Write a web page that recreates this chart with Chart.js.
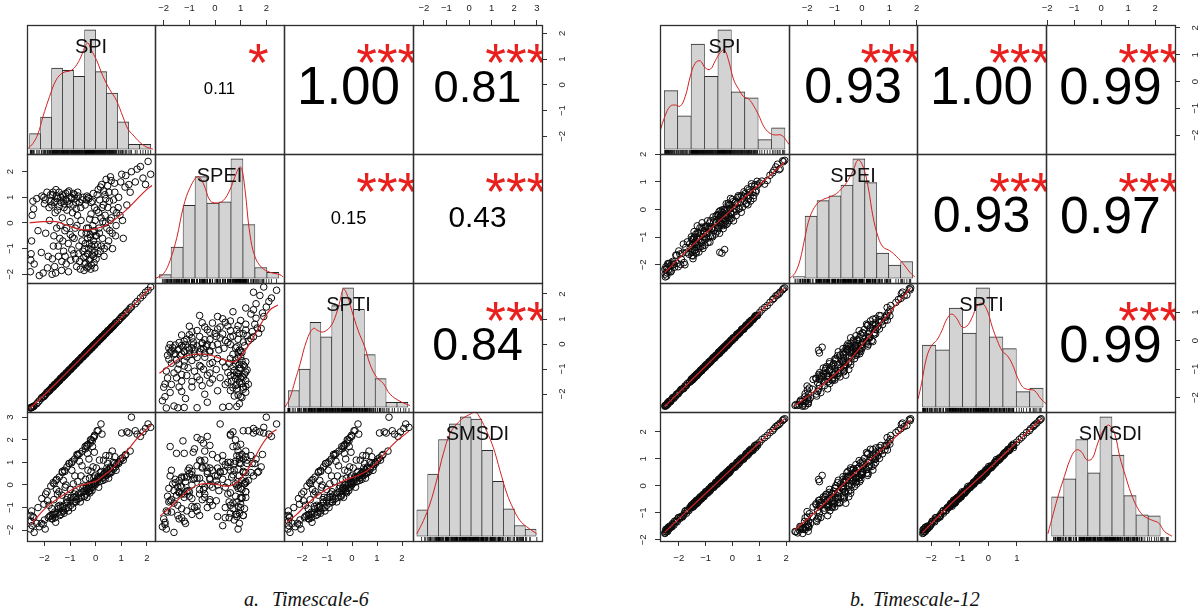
<!DOCTYPE html>
<html><head><meta charset="utf-8"><title>Correlation matrices</title>
<script src="https://cdn.jsdelivr.net/npm/chart.js@4.4.1/dist/chart.umd.min.js"></script>
<style>
html,body{margin:0;padding:0;background:#fff}
body{position:relative;width:1200px;height:608px;overflow:hidden}
canvas{position:absolute}
.cap{position:absolute;top:589px;font-family:"Liberation Serif","Times New Roman",serif;font-style:italic;font-size:20px;line-height:20px;color:#111;white-space:nowrap}
</style></head><body>
<div class="cap" style="left:244px">a.</div><div class="cap" style="left:272px">Timescale-6</div>
<div class="cap" style="left:850px">b.</div><div class="cap" style="left:873px">Timescale-12</div>
<script>
const VARS = ['SPI','SPEI','SPTI','SMSDI'];

/* ===== a. Timescale-6 : observations ===== */
const spiA = [-2.55,-2.52,-2.50,-2.48,-2.45,-2.40,-2.30,-2.20,-2.10,-2.05,
-2.00,-1.95,-1.90,-1.85,-1.80,-1.75,-1.70,-1.68,-1.65,-1.62,
-1.60,-1.58,-1.55,-1.52,-1.50,-1.45,-1.42,-1.40,-1.36,-1.33,
-1.30,-1.27,-1.25,-1.22,-1.20,-1.17,-1.15,-1.12,-1.10,-1.07,
-1.04,-1.00,-0.97,-0.94,-0.91,-0.88,-0.85,-0.82,-0.80,-0.77,
-0.74,-0.71,-0.68,-0.65,-0.62,-0.58,-0.55,-0.52,-0.49,-0.45,
-0.42,-0.40,-0.38,-0.36,-0.35,-0.33,-0.31,-0.29,-0.27,-0.25,
-0.23,-0.21,-0.19,-0.17,-0.15,-0.13,-0.11,-0.09,-0.08,-0.06,
-0.05,-0.04,-0.03,-0.01,0.02,0.05,0.08,0.10,0.13,0.16,
0.18,0.21,0.24,0.27,0.30,0.33,0.36,0.39,0.41,0.45,
0.48,0.52,0.55,0.58,0.62,0.66,0.70,0.74,0.78,0.82,
0.90,0.95,1.02,1.08,1.15,1.22,1.35,1.40,1.55,1.75,
1.95,2.05,2.15,
-2.53,-2.42,-2.25,
-2.12,-2.02,-1.97,-1.88,-1.82,-1.76,
-1.71,-1.69,-1.66,-1.63,-1.59,-1.56,-1.53,-1.49,-1.46,-1.43,-1.39,-1.35,-1.32,-1.30,
-1.28,-1.26,-1.23,-1.19,-1.16,-1.13,-1.09,-1.06,-1.03,-0.99,-0.96,-0.93,-0.90,-0.87,
-0.84,-0.81,-0.78,-0.76,-0.73,-0.70,-0.67,-0.63,-0.60,-0.57,-0.53,-0.50,-0.46,
-0.43,-0.41,-0.39,-0.37,-0.34,-0.32,-0.30,-0.28,-0.26,-0.24,-0.22,-0.20,-0.18,-0.16,-0.14,-0.12,-0.10,-0.07,-0.05,-0.03,-0.02,
0.03,0.06,0.09,0.12,0.15,0.19,0.22,0.25,0.28,0.31,0.34,0.37,0.40,
0.44,0.47,0.51,0.54,0.57,0.61,0.65,0.69,0.75,0.80,
0.88,0.98,1.05,1.18,
1.30,1.62,1.85];
const speiA = [-1.90,-1.20,-0.70,0.30,0.85,-1.60,0.95,-2.05,1.05,-1.95,
0.75,-0.40,1.20,-1.30,0.10,0.85,-2.00,1.10,-0.90,0.80,
-1.70,0.40,1.30,-0.20,0.95,-1.30,0.65,-0.60,1.00,-1.85,
0.20,0.90,-1.10,0.75,-0.30,1.15,-1.60,0.50,0.85,-0.80,
1.25,0.05,-1.45,0.95,-0.55,0.70,-1.20,1.10,-0.20,0.80,
-1.70,0.30,1.05,-0.90,-1.50,0.60,-0.40,0.90,-1.10,-1.85,
-1.60,-0.80,-1.30,0.90,-0.20,-1.75,-0.60,1.00,-1.00,-1.45,
0.15,-0.45,-1.80,0.80,-0.90,-1.25,-0.10,1.15,-0.70,-1.55,
-0.30,0.60,-1.15,-0.50,-1.40,0.50,-0.85,1.30,-0.20,0.90,
-1.10,0.20,1.50,-0.60,0.70,-1.30,1.10,0.00,1.70,-0.90,
0.60,1.20,-0.30,1.80,0.20,-1.00,0.90,1.55,-0.50,0.40,
1.00,0.30,1.90,-0.60,1.40,0.70,1.20,2.00,1.60,2.20,
1.50,2.40,1.90,
-1.45,0.55,-0.30,
-1.15,1.00,0.90,-1.75,0.60,1.10,
0.70,-1.40,1.20,-0.50,0.85,-1.95,1.05,0.50,-0.90,1.20,-0.10,0.80,-1.50,1.10,
-0.70,1.05,0.60,-1.30,0.90,-0.20,1.20,-1.90,0.75,-0.45,1.00,-1.05,0.40,1.15,
-0.60,0.95,-1.40,0.55,-0.10,1.20,-1.20,0.80,-1.80,0.10,-0.70,1.00,-1.35,
-1.00,0.70,-1.55,-0.40,1.05,-1.20,-1.70,-0.20,0.95,-0.80,-1.40,-0.55,0.35,-1.65,-1.05,0.85,-0.35,-1.30,-0.85,-1.75,0.10,
-0.50,1.10,-1.20,0.40,-0.40,1.40,-0.90,0.60,0.05,1.25,-1.00,0.30,0.95,
-0.20,1.45,-0.70,0.85,0.10,1.65,-0.40,0.50,1.20,-0.10,
0.60,1.60,0.10,1.85,
1.50,2.10,1.75];
const sptiA = [-2.56,-2.54,-2.55,-2.53,-2.50,-2.48,-2.39,-2.27,-2.14,-2.11,
-2.08,-2.01,-1.93,-1.90,-1.87,-1.80,-1.73,-1.73,-1.72,-1.66,
-1.62,-1.62,-1.61,-1.56,-1.52,-1.49,-1.48,-1.44,-1.37,-1.36,
-1.35,-1.30,-1.26,-1.25,-1.25,-1.20,-1.16,-1.14,-1.14,-1.09,
-1.04,-1.02,-1.01,-0.96,-0.91,-0.90,-0.88,-0.83,-0.79,-0.78,
-0.77,-0.72,-0.67,-0.66,-0.64,-0.58,-0.53,-0.52,-0.51,-0.45,
-0.40,-0.40,-0.40,-0.35,-0.32,-0.32,-0.32,-0.28,-0.24,-0.24,
-0.24,-0.20,-0.16,-0.16,-0.16,-0.12,-0.07,-0.07,-0.08,-0.04,
-0.01,-0.02,-0.03,0.01,0.06,0.07,0.08,0.12,0.18,0.19,
0.19,0.24,0.29,0.30,0.31,0.36,0.41,0.43,0.43,0.49,
0.54,0.56,0.57,0.62,0.68,0.71,0.73,0.79,0.85,0.87,
0.94,1.01,1.10,1.14,1.20,1.29,1.44,1.48,1.61,1.84,
2.07,2.15,2.28,
-2.55,-2.50,-2.33,
-2.18,-2.10,-2.04,-1.94,-1.86,-1.81,
-1.75,-1.72,-1.70,-1.67,-1.63,-1.60,-1.58,-1.53,-1.50,-1.47,-1.41,-1.38,-1.35,-1.33,
-1.31,-1.29,-1.26,-1.22,-1.19,-1.16,-1.12,-1.08,-1.06,-1.01,-0.98,-0.95,-0.92,-0.89,
-0.86,-0.82,-0.80,-0.77,-0.74,-0.71,-0.68,-0.64,-0.61,-0.58,-0.54,-0.51,-0.47,
-0.43,-0.41,-0.39,-0.37,-0.34,-0.31,-0.29,-0.27,-0.25,-0.23,-0.21,-0.19,-0.17,-0.15,-0.13,-0.11,-0.09,-0.06,-0.04,-0.02,-0.01,
0.05,0.08,0.11,0.14,0.17,0.21,0.24,0.27,0.30,0.33,0.37,0.40,0.43,
0.47,0.50,0.54,0.57,0.60,0.64,0.68,0.72,0.79,0.84,
0.92,1.03,1.10,1.24,
1.37,1.70,1.94];
const smsdiA = [-1.95,-1.60,-1.15,-1.80,-1.40,-2.10,-1.70,-1.85,-0.60,-1.75,
-1.55,-0.40,-0.30,-1.45,-1.40,-0.05,-1.50,-1.35,-1.30,0.05,
-1.20,-1.45,0.20,0.25,-1.25,-1.05,0.35,-1.35,-1.00,-1.20,
0.55,-0.95,-1.15,0.65,0.60,-1.05,-0.80,0.80,-0.75,-1.00,
0.95,-0.70,-0.90,0.98,1.05,-0.80,-0.55,1.15,-0.75,-0.50,
-0.65,1.30,1.35,-0.60,1.40,-0.35,-0.55,1.50,-0.30,-0.50,
-0.25,1.60,-0.40,-0.15,1.75,1.70,-0.20,1.80,-0.30,-0.10,
-0.25,1.85,-0.15,2.00,0.00,1.95,-0.10,0.05,2.10,0.10,
2.15,2.20,0.15,0.05,0.20,0.10,0.25,2.40,0.30,0.15,
0.35,2.70,0.40,0.30,0.45,0.35,0.55,0.40,0.60,0.45,
0.65,0.55,0.50,0.80,0.60,0.75,0.70,0.95,0.80,0.90,
0.95,1.05,2.30,1.10,1.30,2.35,1.50,3.00,2.40,2.15,
2.50,2.70,2.55,
-1.35,-1.45,-1.00,
-1.70,-0.85,-1.95,-0.70,-0.90,-1.35,
-1.05,-1.50,0.10,-0.65,-1.30,-1.65,-0.20,-0.40,-0.95,-0.30,-0.90,-1.30,-0.45,0.60,
-0.95,0.20,-1.25,-0.10,0.00,-0.65,-0.55,-1.15,0.95,-0.20,-0.55,0.65,-1.00,0.05,
-0.40,0.40,-0.30,-0.75,1.35,0.15,-0.40,1.05,-0.75,0.40,0.85,-0.15,-0.05,
-0.50,1.70,0.25,-0.10,-0.55,1.40,0.65,0.00,1.15,0.30,-0.35,2.00,0.60,0.05,-0.25,1.70,0.80,0.30,1.45,0.40,0.00,
0.75,2.40,0.35,-0.10,1.10,0.55,0.60,2.25,0.20,1.10,0.50,0.25,1.30,
0.75,0.95,0.30,1.30,0.75,0.55,1.50,1.00,1.25,0.65,
1.00,1.15,1.20,1.35,
2.30,2.25,2.35];
const limsA = [[-2.68,2.32],[-2.34,2.69],[-2.72,2.44],[-2.48,3.23]];
const ticksA = [[-2,-1,0,1,2],[-2,-1,0,1,2],[-2,-1,0,1,2],[-2,-1,0,1,2,3]];
/* histograms (bin edges, bar heights relative to tallest bar) */
const histEdgesA_SPI = [-2.58,-2.15,-1.72,-1.29,-0.86,-0.43,0,0.43,0.86,1.29,1.72,2.15];
const histA_SPI = [13,27,68,66,61,100,65,47,23,4,4];
const histEdgesA_SPEI = [-2.18,-1.713,-1.246,-0.779,-0.312,0.155,0.622,1.089,1.556,2.023,2.49];
const histA_SPEI = [3,26,61,85,63,64,100,45,9,5];
const histEdgesA_SPTI = [-2.55,-2.115,-1.68,-1.245,-0.81,-0.375,0.06,0.495,0.93,1.365,1.8,2.235];
const histA_SPTI = [14,32,71,59,85,100,82,44,24,4,4];
const histEdgesA_SMSDI = [-2.31,-1.83,-1.35,-0.87,-0.39,0.09,0.57,1.05,1.53,2.01,2.49,2.97];
const histA_SMSDI = [22,52,81,94,100,98,72,46,23,9,6];
/* density curves */
const densA_SPI = [[-2.64,0.6],[-2.45,4.8],[-2.25,13],[-2.06,27],[-1.80,44],[-1.54,58],[-1.28,64],[-0.95,66],[-0.73,71],[-0.56,78],[-0.39,87],[-0.30,89],[-0.17,83],[0.03,75],[0.29,61],[0.55,50],[0.81,41],[1.07,27],[1.26,17],[1.46,12],[1.72,6],[1.98,2],[2.24,0]];
const densA_SPEI = [[-2.30,0],[-2.01,3.7],[-1.75,15],[-1.49,34],[-1.23,60],[-0.97,76],[-0.67,85],[-0.45,79],[-0.19,65],[0.07,63],[0.32,65],[0.58,74],[0.78,85],[0.95,93],[1.04,92],[1.17,74],[1.36,37],[1.56,18],[1.82,9],[2.14,5],[2.53,3],[2.66,1]];
const densA_SPTI = [[-2.68,0],[-2.48,8],[-2.28,22],[-2.08,36],[-1.81,56],[-1.55,66],[-1.35,64],[-1.15,63],[-0.88,67],[-0.68,75],[-0.48,89],[-0.35,99],[-0.21,95],[-0.01,81],[0.25,64],[0.52,50],[0.72,36],[0.99,25],[1.25,20],[1.52,11],[1.92,5],[2.32,1.4]];
const densA_SMSDI = [[-2.31,2],[-2.02,13],[-1.73,27],[-1.43,47],[-1.14,69],[-0.84,86],[-0.54,94],[-0.25,99],[0.04,102],[0.27,104],[0.49,99],[0.78,88],[1.08,74],[1.37,55],[1.67,36],[1.96,23],[2.26,13],[2.55,8],[3.0,2]];
/* smoothers in the scatter panels (row var vs column var) */
const loessA_21 = [[-2.58,0.01],[-2.06,0.05],[-1.54,0.05],[-1.15,-0.08],[-0.76,-0.21],[-0.36,-0.27],[0.03,-0.21],[0.42,-0.08],[0.81,0.18],[1.20,0.51],[1.59,0.90],[1.98,1.29],[2.20,1.46]];
const loessA_31 = [[-2.56,-2.58],[-1.5,-1.53],[0,0.02],[1.0,1.05],[2.18,2.28]];
const loessA_41 = [[-2.51,-1.74],[-2.19,-1.30],[-1.80,-0.86],[-1.41,-0.56],[-1.02,-0.27],[-0.63,-0.04],[-0.30,0.06],[0.03,0.18],[0.29,0.40],[0.55,0.62],[0.81,0.91],[1.07,1.28],[1.33,1.65],[1.59,2.02],[1.98,2.46],[2.17,2.68]];
const loessA_32 = [[-2.17,-1.17],[-1.75,-0.84],[-1.37,-0.57],[-0.98,-0.44],[-0.59,-0.40],[-0.20,-0.44],[0.19,-0.57],[0.58,-0.71],[0.84,-0.67],[1.10,-0.37],[1.36,0.03],[1.62,0.49],[1.88,0.96],[2.14,1.36],[2.45,1.56]];
const loessA_42 = [[-2.14,-1.37],[-1.75,-1.00],[-1.36,-0.56],[-0.98,-0.19],[-0.59,0.03],[-0.20,0.06],[0.06,0.03],[0.32,-0.04],[0.58,-0.04],[0.84,0.10],[1.10,0.40],[1.36,0.84],[1.62,1.36],[1.88,1.87],[2.14,2.24],[2.40,2.46]];
const loessA_43 = [[-2.61,-1.66],[-2.21,-1.30],[-1.81,-0.86],[-1.41,-0.49],[-1.01,-0.19],[-0.61,0.03],[-0.21,0.25],[0.19,0.40],[0.59,0.62],[0.99,0.99],[1.39,1.50],[1.79,1.95],[2.12,2.24],[2.28,2.39]];
/* correlations: pairs (SPI,SPEI),(SPI,SPTI),(SPI,SMSDI),(SPEI,SPTI),(SPEI,SMSDI),(SPTI,SMSDI) */
const corrA = [0.11,1.00,0.81,0.15,0.43,0.84];
const starsA = ['*','***','***','***','***','***'];

/* ===== b. Timescale-12 : observations ===== */
const spiB = [-2.52,-2.50,-2.47,-2.44,-2.41,-2.38,-2.34,-2.30,-2.26,-2.21,-2.16,-2.11,-2.06,
-2.00,-1.93,-1.86,-1.80,-1.74,-1.68,-1.62,-1.57,
-1.53,-1.51,-1.49,-1.47,-1.45,-1.43,-1.41,-1.39,-1.37,-1.35,-1.33,-1.31,-1.29,-1.27,-1.25,-1.23,-1.21,-1.19,-1.17,-1.15,-1.13,-1.11,-1.08,-1.05,
-1.02,-0.99,-0.96,-0.93,-0.90,-0.87,-0.84,-0.81,-0.78,-0.75,-0.72,-0.69,-0.66,-0.63,-0.60,-0.57,-0.55,
-0.53,-0.51,-0.49,-0.47,-0.45,-0.43,-0.41,-0.39,-0.37,-0.35,-0.33,-0.31,-0.29,-0.27,-0.25,-0.23,-0.21,-0.19,-0.17,-0.15,-0.13,-0.11,-0.09,-0.08,-0.07,-0.06,-0.05,
-0.02,0.02,0.06,0.10,0.14,0.18,0.22,0.26,0.30,0.34,0.38,0.42,0.45,
0.48,0.52,0.56,0.60,0.64,0.68,0.72,0.76,0.80,0.84,0.89,0.94,
1.02,1.20,1.40,1.55,1.68,1.78,1.87,1.95,
-2.51,-2.48,-2.45,-2.43,-2.39,-2.36,-2.32,-2.28,-2.23,-2.18,-2.08,
-2.02,-1.96,-1.90,-1.83,-1.77,-1.71,-1.59,
-1.54,-1.52,-1.50,-1.48,-1.46,-1.44,-1.42,-1.40,-1.38,-1.36,-1.34,-1.32,-1.30,-1.26,-1.22,-1.18,-1.14,-1.10,-1.07,-1.06,
-1.03,-1.00,-0.97,-0.94,-0.91,-0.88,-0.85,-0.82,-0.79,-0.74,-0.70,-0.65,-0.61,-0.56,
-0.54,-0.52,-0.50,-0.48,-0.46,-0.44,-0.42,-0.40,-0.38,-0.36,-0.34,-0.32,-0.30,-0.28,-0.26,-0.24,-0.22,-0.20,-0.16,-0.12,-0.10,-0.04,
0.00,0.04,0.08,0.12,0.16,0.20,0.24,0.28,0.33,0.38,0.43,
0.50,0.54,0.58,0.62,0.66,0.71,0.78,0.83,0.87,0.92,
1.10,1.30,1.50,1.62,1.74,1.90];
const speiB = [-2.16,-2.44,-2.16,-2.29,-1.96,-2.18,-1.95,-2.26,-1.93,-1.98,-2.09,-1.65,-1.95,
-1.50,-1.99,-1.58,-1.92,-1.37,-1.17,-1.62,-1.37,
-0.99,-1.67,-1.25,-1.78,-1.07,-0.80,-1.48,-1.26,-0.90,-1.58,-1.06,-0.59,-1.28,-0.86,-1.54,-1.07,-0.66,-1.34,-0.87,-1.20,-0.48,-1.32,-0.89,-0.66,
-1.29,-0.61,-0.88,-0.41,-1.03,-0.66,-1.18,-0.40,-0.68,-0.95,-0.27,-0.75,-0.37,-0.89,-0.47,-0.19,-0.67,
-0.21,-0.69,-0.32,-1.55,-0.04,-0.52,-0.20,-1.58,-0.32,0.00,-0.58,-0.21,-1.45,-0.03,-0.41,0.21,-0.23,-0.51,0.01,0.23,-0.25,0.16,-0.32,0.04,0.40,-0.14,0.17,
-0.31,0.28,-0.09,0.25,-0.22,0.22,0.50,0.04,0.27,0.51,0.09,0.48,0.31,
0.58,0.22,0.75,0.39,0.62,0.31,0.84,0.63,0.51,0.90,0.69,0.89,
0.96,0.92,1.24,1.42,1.64,1.48,1.76,1.78,
-2.34,-2.07,-2.41,-2.12,-1.96,-2.24,-2.05,-2.23,-1.88,-1.99,-1.66,
-2.07,-1.61,-1.81,-1.25,-2.00,-1.55,-1.24,
-1.55,-1.08,-1.51,-1.09,-1.68,-1.21,-0.99,-1.47,-1.20,-1.54,-1.02,-1.25,-0.83,-1.40,-0.96,-1.18,-0.64,-1.41,-0.98,-0.77,
-1.10,-0.62,-1.04,-0.62,-1.19,-0.71,-0.49,-0.96,-0.69,-0.99,-0.46,-0.66,-0.23,-0.78,
-0.37,-0.60,-0.08,-0.86,-0.45,-0.23,-0.56,-0.09,-0.52,-0.11,-0.69,-0.22,0.00,-0.49,-0.22,-0.55,-0.03,-0.27,0.17,-0.40,0.02,-0.18,
0.36,-0.41,0.03,0.27,-0.05,0.44,0.02,0.46,-0.10,0.39,0.64,
0.20,0.49,0.17,0.71,0.49,0.93,0.40,0.84,0.63,1.02,
1.03,1.05,1.33,1.54,1.44,1.73];
const sptiB = [-2.30,-2.27,-2.26,-2.25,-2.20,-2.14,-2.14,-2.13,-2.06,-2.00,-1.97,-1.94,-1.88,
-1.82,-1.73,-1.69,-1.66,-1.58,-1.50,-1.47,-1.44,
-1.38,-1.33,-1.35,-1.36,-1.31,-1.27,-1.27,-1.27,-1.23,-1.19,-1.20,-1.21,-1.16,-1.12,-1.12,-1.12,-1.09,-1.04,-1.05,-1.06,-1.01,-0.97,-0.96,-0.96,
-0.91,-0.85,-0.85,-0.85,-0.80,-0.75,-0.74,-0.73,-0.69,-0.63,-0.63,-0.63,-0.57,-0.53,-0.52,-0.51,-0.47,
-0.45,-0.40,-0.42,-0.43,-0.38,-0.34,-0.34,-0.34,-0.30,-0.26,-0.27,-0.28,-0.23,-0.19,-0.19,-0.19,-0.16,-0.11,-0.12,-0.13,-0.08,-0.04,-0.04,-0.05,-0.03,0.01,-0.01,
0.02,0.09,0.10,0.10,0.17,0.23,0.24,0.26,0.32,0.39,0.39,0.40,0.46,
0.49,0.55,0.56,0.57,0.64,0.69,0.71,0.73,0.78,0.85,0.87,0.89,
0.99,1.16,1.34,1.48,1.60,1.70,1.78,1.85,
-2.27,-2.29,-2.24,-2.19,-2.21,-2.13,-2.14,-2.08,-2.00,-2.02,-1.87,
-1.86,-1.78,-1.70,-1.69,-1.59,-1.57,-1.44,
-1.36,-1.40,-1.34,-1.36,-1.32,-1.27,-1.31,-1.24,-1.26,-1.23,-1.18,-1.22,-1.15,-1.15,-1.09,-1.03,-1.05,-0.96,-0.97,-0.95,
-0.89,-0.92,-0.84,-0.85,-0.81,-0.75,-0.78,-0.70,-0.72,-0.65,-0.58,-0.60,-0.51,-0.50,
-0.46,-0.41,-0.46,-0.39,-0.41,-0.37,-0.32,-0.36,-0.29,-0.32,-0.28,-0.23,-0.27,-0.20,-0.22,-0.18,-0.14,-0.18,-0.09,-0.09,-0.05,0.03,
0.01,0.10,0.09,0.15,0.22,0.20,0.28,0.28,0.35,0.42,0.41,
0.53,0.52,0.58,0.65,0.62,0.72,0.75,0.81,0.88,0.87,
1.08,1.23,1.44,1.57,1.64,1.82];
const smsdiB = [-1.76,-1.69,-1.60,-1.63,-1.68,-1.58,-1.49,-1.50,-1.52,-1.42,-1.31,-1.32,-1.33,
-1.17,-1.15,-1.15,-1.03,-0.91,-0.92,-0.91,-0.82,
-0.78,-0.70,-0.74,-0.78,-0.70,-0.63,-0.67,-0.70,-0.63,-0.54,-0.59,-0.64,-0.55,-0.49,-0.52,-0.55,-0.48,-0.40,-0.44,-0.48,-0.40,-0.33,-0.36,-0.37,
-0.30,-0.21,-0.24,-0.27,-0.19,-0.11,-0.13,-0.15,-0.07,0.01,-0.02,-0.05,0.04,0.12,0.10,0.07,0.14,
0.16,0.24,0.20,0.16,0.24,0.31,0.27,0.24,0.31,0.40,0.35,0.30,0.39,0.45,0.42,0.39,0.46,0.54,0.50,0.46,0.54,0.61,0.58,0.54,0.59,0.65,0.61,
0.64,0.74,0.72,0.69,0.79,0.88,0.87,0.85,0.94,1.04,1.02,0.99,1.08,
1.11,1.20,1.19,1.17,1.26,1.36,1.34,1.31,1.41,1.49,1.50,1.50,
1.62,1.79,1.98,2.12,2.24,2.33,2.42,2.49,
-1.74,-1.62,-1.70,-1.59,-1.53,-1.59,-1.52,-1.52,-1.39,-1.45,-1.27,
-1.18,-1.21,-1.13,-1.10,-0.95,-1.01,-0.80,
-0.73,-0.80,-0.75,-0.77,-0.66,-0.75,-0.64,-0.60,-0.67,-0.62,-0.64,-0.53,-0.62,-0.49,-0.43,-0.48,-0.41,-0.41,-0.30,-0.40,
-0.28,-0.22,-0.28,-0.22,-0.24,-0.12,-0.20,-0.08,-0.02,-0.07,0.00,0.01,0.14,0.07,
0.18,0.23,0.16,0.21,0.19,0.30,0.21,0.31,0.36,0.29,0.34,0.32,0.43,0.34,0.45,0.49,0.42,0.47,0.47,0.60,0.51,0.65,
0.72,0.67,0.74,0.73,0.86,0.79,0.92,0.98,0.94,1.02,1.02,
1.18,1.11,1.24,1.30,1.25,1.33,1.35,1.49,1.42,1.55,
1.72,1.87,2.05,2.20,2.28,2.46];
const limsB = [[-2.70,2.11],[-2.66,2.01],[-2.50,2.02],[-2.04,2.74]];
const ticksB = [[-2,-1,0,1,2],[-2,-1,0,1,2],[-2,-1,0,1],[-2,-1,0,1,2]];
const histEdgesB_SPI = [-2.54,-2.04,-1.54,-1.04,-0.54,-0.04,0.46,0.96,1.46,1.96];
const histB_SPI = [49,28,88,61,100,48,43,8,18];
const histEdgesB_SPEI = [-2.51,-2.074,-1.638,-1.202,-0.766,-0.33,0.106,0.542,0.978,1.414,1.85];
const histB_SPEI = [1.4,52,65,69,78,100,80,21,11,14];
const histEdgesB_SPTI = [-2.31,-1.84,-1.37,-0.90,-0.43,0.04,0.51,0.98,1.45,1.92];
const histB_SPTI = [52,48,83,62,100,59,49,13,16];
const histEdgesB_SMSDI = [-1.83,-1.383,-0.936,-0.489,-0.042,0.405,0.852,1.299,1.746,2.193];
const histB_SMSDI = [33,48,81,53,100,68,34,18,17];
const densB_SPI = [[-2.70,15],[-2.51,28],[-2.32,36],[-2.13,37],[-1.95,36],[-1.76,44],[-1.57,61],[-1.39,72],[-1.20,74],[-1.01,68],[-0.82,67],[-0.64,74],[-0.45,81],[-0.30,83],[-0.14,74],[0.05,58],[0.24,50],[0.42,44],[0.61,42],[0.80,36],[0.99,28],[1.17,19],[1.36,14],[1.55,12],[1.80,12],[1.92,10],[2.11,4]];
const densB_SPEI = [[-2.63,0],[-2.45,4],[-2.26,15],[-2.08,34],[-1.90,51],[-1.65,62],[-1.41,66],[-1.17,68],[-0.92,71],[-0.74,75],[-0.56,80],[-0.32,90],[-0.14,99],[0.05,93],[0.23,76],[0.41,51],[0.60,34],[0.78,26],[1.02,23],[1.27,18],[1.51,12],[1.75,5],[1.93,1]];
const densB_SPTI = [[-2.46,7],[-2.34,20],[-2.16,42],[-1.98,52],[-1.81,56],[-1.63,64],[-1.45,74],[-1.28,78],[-1.10,74],[-0.92,67],[-0.75,68],[-0.57,75],[-0.39,85],[-0.22,87],[-0.04,81],[0.14,67],[0.31,56],[0.49,47],[0.67,43],[0.84,36],[1.02,25],[1.20,17],[1.37,15],[1.61,14],[1.84,7],[2.02,3]];
const densB_SMSDI = [[-1.97,2],[-1.77,19],[-1.56,36],[-1.36,50],[-1.15,64],[-0.94,72],[-0.74,71],[-0.53,64],[-0.33,65],[-0.12,78],[0.09,89],[0.29,93],[0.50,86],[0.70,66],[0.91,50],[1.11,36],[1.32,25],[1.53,18],[1.73,15],[1.94,13],[2.14,11],[2.35,4],[2.63,0]];
const loessB_21 = [[-2.52,-2.28],[-1.5,-1.30],[-0.5,-0.42],[0.5,0.48],[1.2,1.06],[1.95,1.72]];
const loessB_31 = [[-2.52,-2.30],[-1.5,-1.36],[-0.5,-0.43],[0.5,0.51],[1.2,1.16],[1.95,1.85]];
const loessB_41 = [[-2.52,-1.71],[-1.5,-0.75],[-0.5,0.19],[0.5,1.13],[1.2,1.79],[1.95,2.49]];
const loessB_32 = [[-2.44,-2.27],[-1.53,-1.62],[-0.56,-0.80],[0.17,0.04],[0.9,0.86],[1.78,1.85]];
const loessB_42 = [[-2.44,-1.62],[-1.5,-0.78],[-0.5,0.24],[0.5,1.15],[1.2,1.79],[1.78,2.45]];
const loessB_43 = [[-2.30,-1.72],[-1.3,-0.65],[-0.3,0.32],[0.5,1.12],[1.2,1.82],[1.85,2.49]];
const corrB = [0.93,1.00,0.99,0.93,0.97,0.99];
const starsB = ['***','***','***','***','***','***'];

/* ===== drawing ===== */
const M = 30, HIST_Y = [-4, 104], RUG_Y = -2.3;
const YS = [25,154,283,412,541];
const FONT = '"Liberation Sans", Arial, Helvetica, sans-serif';
const RED = 'rgb(210,34,34)';
const STAR_RED = '#e8201e';
const BASE_CEX = 53;
Chart.defaults.font.family = FONT;
Chart.defaults.color = '#222';

const MATS = [
  {xs:[27,155,284,413,542], obs:[spiA,speiA,sptiA,smsdiA], lims:limsA, ticks:ticksA,
   hist:[[histEdgesA_SPI,histA_SPI],[histEdgesA_SPEI,histA_SPEI],[histEdgesA_SPTI,histA_SPTI],[histEdgesA_SMSDI,histA_SMSDI]],
   dens:[densA_SPI,densA_SPEI,densA_SPTI,densA_SMSDI],
   loess:{'10':loessA_21,'20':loessA_31,'30':loessA_41,'21':loessA_32,'31':loessA_42,'32':loessA_43},
   corr:corrA, stars:starsA},
  {xs:[660,789,917,1046,1175], obs:[spiB,speiB,sptiB,smsdiB], lims:limsB, ticks:ticksB,
   hist:[[histEdgesB_SPI,histB_SPI],[histEdgesB_SPEI,histB_SPEI],[histEdgesB_SPTI,histB_SPTI],[histEdgesB_SMSDI,histB_SMSDI]],
   dens:[densB_SPI,densB_SPEI,densB_SPTI,densB_SMSDI],
   loess:{'10':loessB_21,'20':loessB_31,'30':loessB_41,'21':loessB_32,'31':loessB_42,'32':loessB_43},
   corr:corrB, stars:starsB}
];
const PAIRS = ['01','02','03','12','13','23'];

function addCanvas(x0, y0, w, h) {
  const c = document.createElement('canvas');
  c.width = w + 2*M; c.height = h + 2*M;
  c.style.left = (x0 - M) + 'px'; c.style.top = (y0 - M) + 'px';
  c.style.width = (w + 2*M) + 'px'; c.style.height = (h + 2*M) + 'px';
  document.body.appendChild(c);
  return c;
}
function fmt(v){ return (v < 0 ? '\u2212' : '') + Math.abs(v); }
function axisCfg(tickVals, horizontal, pos, pad) {
  return {
    type:'linear', position:pos, display:true, offset:false,
    afterBuildTicks: s => { s.ticks = tickVals.map(v => ({value:v})); },
    afterFit: s => { if (horizontal) s.height = M; else s.width = M; },
    grid:{drawOnChartArea:false, drawTicks:true, tickLength:5, color:'#333', lineWidth:1, offset:false},
    border:{display:false},
    ticks:{autoSkip:false, includeBounds:false, padding:pad, color:'#222', font:{size:9.5},
      minRotation: horizontal ? 0 : 90, maxRotation: horizontal ? 0 : 90,
      crossAlign: horizontal ? 'near' : 'center', callback: v => fmt(v)}
  };
}
const boxPlugin = {id:'panelBox', afterDraw(chart){
  const {ctx, chartArea:a} = chart;
  ctx.save(); ctx.strokeStyle = '#2e2e2e'; ctx.lineWidth = 1.3;
  ctx.strokeRect(a.left + 0.5, a.top + 0.5, a.right - a.left, a.bottom - a.top);
  ctx.restore();
}};
function textPlugin(items) {
  return {id:'panelText', afterDraw(chart){
    const {ctx, chartArea:a} = chart, u = chart.scales.u, v = chart.scales.v;
    ctx.save(); ctx.beginPath(); ctx.rect(a.left, a.top, a.right - a.left + 1, a.bottom - a.top + 1); ctx.clip();
    items.forEach(t => {
      ctx.font = t.size + 'px ' + FONT; ctx.fillStyle = t.color; ctx.textAlign = 'center';
      const px = u.getPixelForValue(t.u), py = v.getPixelForValue(t.v);
      if (t.glyph) { ctx.textBaseline = 'alphabetic'; ctx.fillText(t.text, px, py + t.glyph * t.size); }
      else { ctx.textBaseline = 'middle'; ctx.fillText(t.text, px, py); }
    });
    ctx.restore();
  }};
}

MATS.forEach(mx => {
  for (let i = 0; i < 4; i++) for (let j = 0; j < 4; j++) {
    const x0 = mx.xs[j], y0 = YS[i], w = mx.xs[j+1] - x0, h = YS[i+1] - y0;
    const kind = i === j ? 'diag' : (i > j ? 'low' : 'up');
    const top = i === 0 && j % 2 === 1, bottom = i === 3 && j % 2 === 0;
    const left = j === 0 && i % 2 === 1, right = j === 3 && i % 2 === 0;
    const xs = (top || bottom) ? axisCfg(mx.ticks[j], true, top ? 'top' : 'bottom', top ? 6 : 7) : {type:'linear', display:false, offset:false};
    Object.assign(xs, {min:mx.lims[j][0], max:mx.lims[j][1]});
    const yl = kind === 'diag' ? HIST_Y : mx.lims[i];
    const ys = (left || right) ? axisCfg(mx.ticks[i], false, left ? 'left' : 'right', left ? 6 : 10) : {type:'linear', display:false};
    Object.assign(ys, {min:yl[0], max:yl[1]});
    const scales = {x:xs, y:ys,
      u:{type:'linear', axis:'x', position:'bottom', display:false, min:0, max:1},
      v:{type:'linear', axis:'y', position:'left', display:false, min:0, max:1}};
    const pad = {top: top ? 0 : M, bottom: bottom ? 0 : M, left: left ? 0 : M, right: right ? 0 : M};
    const datasets = [], texts = [];
    if (kind === 'diag') {
      const [edges, hts] = mx.hist[i];
      datasets.push({type:'bar', data: hts.map((hv, k) => ({x:(edges[k] + edges[k+1]) / 2, y:hv})),
        backgroundColor:'#d3d3d3', borderColor:'#2a2a2a', borderWidth:{top:1, left:0.7, right:0.7, bottom:0.8},
        borderSkipped:false, barPercentage:1, categoryPercentage:1, grouped:false, order:3, clip:0});
      datasets.push({type:'line', data: mx.dens[i].map(p => ({x:p[0], y:p[1]})), borderColor:RED, borderWidth:1,
        pointRadius:0, tension:0.4, fill:false, order:2, clip:0});
      datasets.push({type:'scatter', data: mx.obs[i].map(vv => ({x:vv, y:RUG_Y})), pointStyle:'line', pointRotation:90,
        pointRadius:2, pointBorderColor:'#000', pointBorderWidth:0.8, order:1, clip:0});
      texts.push({u:0.5, v:0.826, text:VARS[i], size:20, color:'#111'});
    } else if (kind === 'low') {
      const X = mx.obs[j], Y = mx.obs[i], n = Math.min(X.length, Y.length), pts = [];
      for (let k = 0; k < n; k++) pts.push({x:X[k], y:Y[k]});
      datasets.push({type:'scatter', data:pts, pointStyle:'circle', pointRadius:3.3, pointBorderWidth:1,
        pointBorderColor:'#0a0a0a', pointBackgroundColor:'rgba(0,0,0,0)', order:2, clip:0});
      datasets.push({type:'line', data: mx.loess['' + i + j].map(p => ({x:p[0], y:p[1]})), borderColor:RED,
        borderWidth:1.2, pointRadius:0, tension:0.35, fill:false, order:1, clip:0});
    } else {
      const k = PAIRS.indexOf('' + i + j), r = mx.corr[k];
      texts.push({u:0.5, v:0.5, text:r.toFixed(2), size: BASE_CEX * (Math.abs(r) + 0.3) / 1.3, color:'#000'});
      texts.push({u:0.8, v:0.8, text:mx.stars[k], size: BASE_CEX, color:STAR_RED, glyph:0.57});
    }
    new Chart(addCanvas(x0, y0, w, h), {
      type:'scatter', data:{datasets},
      options:{responsive:false, animation:false, events:[], layout:{padding:pad}, scales,
        plugins:{legend:{display:false}, tooltip:{enabled:false}, title:{display:false}}},
      plugins:[textPlugin(texts), boxPlugin]
    });
  }
});
</script></body></html>
